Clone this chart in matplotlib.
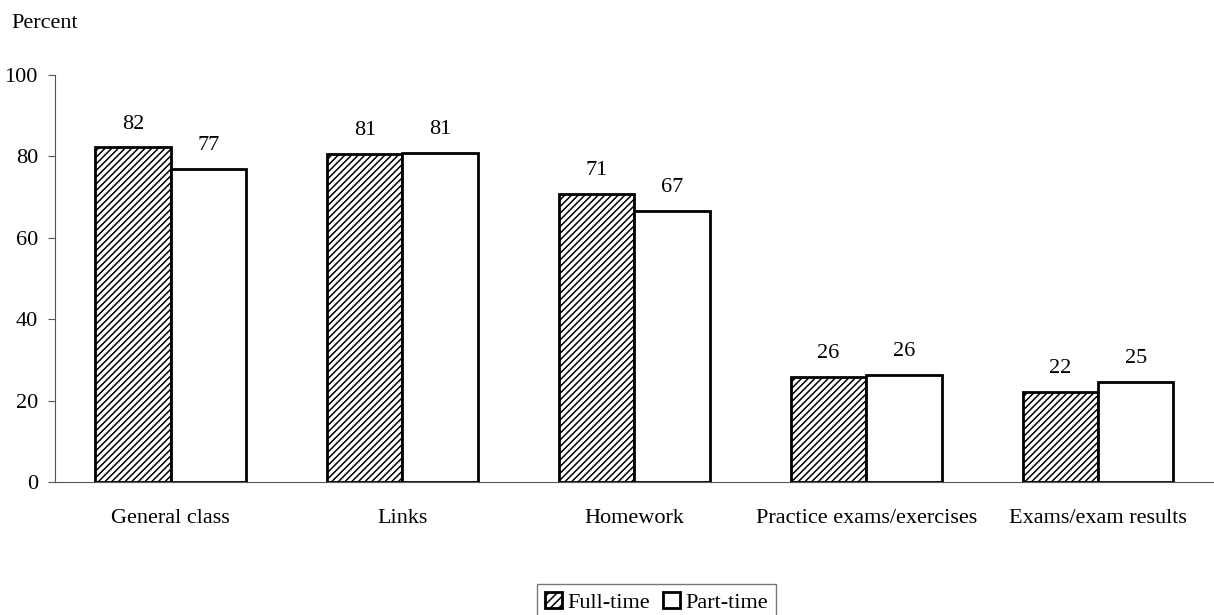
import numpy as np
import matplotlib.pyplot as plt
from matplotlib.patches import Patch

plt.rcParams['font.family'] = ['Liberation Serif', 'DejaVu Serif']
plt.rcParams['hatch.linewidth'] = 1.1

categories = ['General class', 'Links', 'Homework', 'Practice exams/exercises', 'Exams/exam results']
full_time = [82.2, 80.6, 70.9, 25.8, 22.2]
part_time = [77.0, 80.8, 66.6, 26.3, 24.6]

fig = plt.figure(figsize=(12.14, 6.15), dpi=100)
ax = fig.add_axes([0.045, 0.216, 0.955, 0.662])

x = np.arange(len(categories))
w = 0.325
b1 = ax.bar(x - w/2, full_time, w, facecolor='white', edgecolor='black',
            hatch='/////', linewidth=2)
b2 = ax.bar(x + w/2, part_time, w, facecolor='white', edgecolor='black', linewidth=2)

# value labels above each bar
for bars, vals in [(b1, full_time), (b2, part_time)]:
    for rect, v in zip(bars, vals):
        ax.text(rect.get_x() + rect.get_width()/2, v + 3.4, '%.0f' % v,
                ha='center', va='bottom', fontsize=16)

ax.set_xlim(-0.5, 4.5)
ax.set_ylim(0, 100)
ax.set_yticks([0, 20, 40, 60, 80, 100])
ax.set_xticks(x)
ax.set_xticklabels(categories, fontsize=16)
ax.tick_params(axis='x', length=0, pad=19.5)
ax.tick_params(axis='y', labelsize=16, length=5, color='#555555', pad=7)
for s in ['top', 'right']:
    ax.spines[s].set_visible(False)
ax.spines['left'].set_color('#555555')
ax.spines['bottom'].set_color('#555555')

fig.text(0.0095, 0.9545, 'Percent', fontsize=16, ha='left', va='baseline')

handles = [Patch(facecolor='white', edgecolor='black', hatch='////', linewidth=2, label='Full-time'),
           Patch(facecolor='white', edgecolor='black', linewidth=2, label='Part-time')]
leg = fig.legend(handles=handles, loc='upper center', bbox_to_anchor=(0.541, 0.050), ncol=2,
                 fontsize=16, frameon=True, fancybox=False, edgecolor='#555555',
                 handlelength=0.75, handleheight=0.75, handletextpad=0.25, columnspacing=0.6,
                 borderpad=0.35, borderaxespad=0)
leg.get_frame().set_linewidth(1)

fig.savefig('out.png', dpi=100)
